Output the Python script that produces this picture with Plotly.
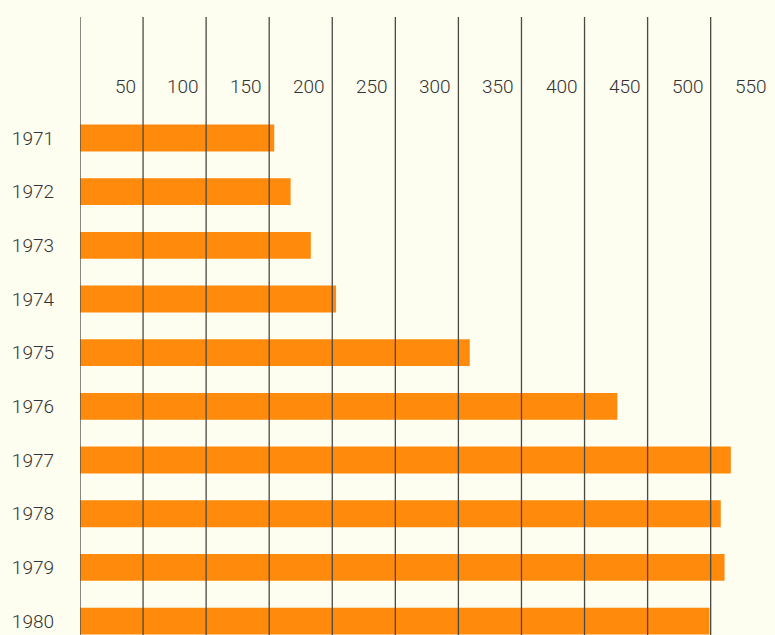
import plotly.graph_objects as go

years = ["1971", "1972", "1973", "1974", "1975", "1976", "1977", "1978", "1979", "1980"]
values = [154, 167, 183, 203, 309, 426, 516, 508, 511, 499]
tick_values = [50, 100, 150, 200, 250, 300, 350, 400, 450, 500, 550]
grid_values = [0, 50, 100, 150, 200, 250, 300, 350, 400, 450, 500]

BG = "#fdfdf0"
BAR = "#ff8a0c"
LINE = "#4a4a44"
TEXT = "#333333"
FONT = "Roboto, Liberation Sans, Arial, sans-serif"

fig = go.Figure()
fig.add_trace(go.Bar(
    x=values, y=years, orientation="h",
    marker=dict(color=BAR, line=dict(width=0)),
    width=0.5, hoverinfo="skip",
))

shapes = [dict(type="line", xref="x", yref="paper", x0=v, x1=v, y0=0, y1=1,
               line=dict(color=LINE, width=1.3), layer="above") for v in grid_values]

H = 635
T = 17
ph = H - T
annotations = [dict(x=v, xref="x", y=1 - (87 - T) / ph, yref="paper", text=str(v), showarrow=False,
                    xanchor="right", yanchor="middle", xshift=-5,
                    font=dict(size=19, color=TEXT, family=FONT, weight=300)) for v in tick_values]

fig.update_layout(
    width=775, height=635,
    margin=dict(l=80, r=0, t=T, b=0),
    paper_bgcolor=BG, plot_bgcolor=BG,
    showlegend=False,
    shapes=shapes,
    annotations=annotations,
    xaxis=dict(range=[0, 551], autorange=False, showgrid=False, zeroline=False,
               showticklabels=False, showline=False, ticks=""),
    yaxis=dict(type="category", categoryorder="array", categoryarray=years,
               range=[9.26, -2.255], autorange=False, showgrid=False, zeroline=False,
               showline=False, ticks="", ticklabelstandoff=25,
               tickfont=dict(size=19, color=TEXT, family=FONT, weight=300)),
)

fig.write_html("out.html")
